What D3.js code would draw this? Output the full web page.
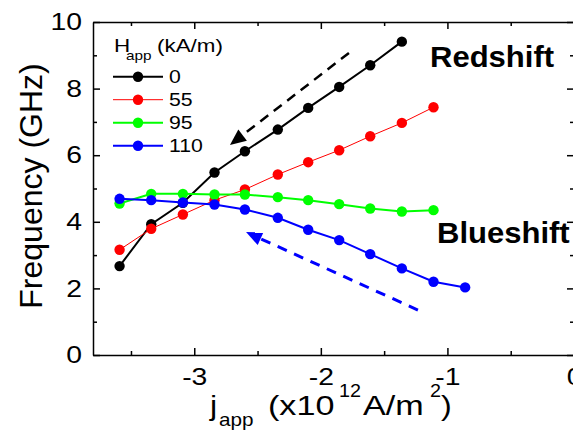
<!DOCTYPE html>
<html>
<head>
<meta charset="utf-8">
<script src="https://cdn.jsdelivr.net/npm/d3@7/dist/d3.min.js"></script>
<style>
  html, body { margin: 0; padding: 0; background: #fff; }
  svg { display: block; }
  text { font-family: "Liberation Sans", Arial, sans-serif; }
</style>
</head>
<body>
<svg id="chart" width="573" height="430"></svg>
<script>
// ---- data ----
const xValues = [-3.59, -3.34, -3.09, -2.84, -2.60, -2.34, -2.10, -1.855, -1.61, -1.36, -1.11, -0.86];
const seriesLabels = ["0", "55", "95", "110"];
const seriesColors = ["#000000", "#ff0000", "#00ff00", "#0000ff"];
const seriesWidths = [2, 1, 2, 2];
const freq0   = [2.67, 3.93, 4.57, 5.48, 6.12, 6.77, 7.42, 8.05, 8.70, 9.41];
const freq55  = [3.16, 3.79, 4.22, 4.65, 4.97, 5.42, 5.79, 6.15, 6.57, 6.97, 7.44];
const freq95  = [4.55, 4.84, 4.84, 4.82, 4.82, 4.74, 4.65, 4.53, 4.40, 4.31, 4.35];
const freq110 = [4.69, 4.65, 4.58, 4.52, 4.37, 4.12, 3.76, 3.45, 3.03, 2.60, 2.20, 2.03];
const yTicks = [0, 2, 4, 6, 8, 10];
const yMinorTicks = [1, 3, 5, 7, 9];
const xTicks = [-3, -2, -1, 0];
const xMinorTicks = [-3.5, -2.5, -1.5, -0.5];
// annotation arrows in data units: [x0, y0, x1(tip), y1(tip)]
const redArrow  = [-1.778, 9.07, -2.718, 6.31];
const blueArrow = [-1.233, 1.35, -2.591, 3.69];

const allSeries = [freq0, freq55, freq95, freq110];

// ---- layout ----
const svg = d3.select("#chart");
const L = 93, R = 574, T = 22, B = 355;
const x = d3.scaleLinear().domain([-3.8, 0]).range([L, R]);
const y = d3.scaleLinear().domain([0, 10]).range([B, T]);
const SX = 1.18; // horizontal stretch of the original lettering

function txt(parent, px, py, s, size, opts = {}) {
  return parent.append("text")
    .attr("transform", `translate(${px},${py}) scale(${opts.sx || SX},1)`)
    .attr("font-size", size)
    .attr("font-weight", opts.bold ? "bold" : "normal")
    .attr("text-anchor", opts.anchor || "start")
    .attr("fill", opts.fill || "#000")
    .text(s);
}

// ---- axes ----
function styleAxis(g) {
  g.selectAll("path.domain").attr("stroke", "#000").attr("stroke-width", 1.5);
  g.selectAll(".tick line").attr("stroke", "#000").attr("stroke-width", 1.5);
}

// left
const gl = svg.append("g").attr("transform", `translate(${L},0)`)
  .call(d3.axisLeft(y).tickValues(yTicks).tickSizeInner(-7).tickSizeOuter(0).tickPadding(11).tickFormat(d => String(d)));
gl.selectAll("text").attr("font-size", 24).attr("x", -11 / SX).attr("transform", `scale(${SX},1)`)
  .attr("font-family", "Liberation Sans, Arial, sans-serif").attr("fill", "#000");
const glm = svg.append("g").attr("transform", `translate(${L},0)`)
  .call(d3.axisLeft(y).tickValues(yMinorTicks).tickSizeInner(-4).tickSizeOuter(0).tickFormat(""));
glm.select("path.domain").remove();
styleAxis(gl); styleAxis(glm);

// right
const gr = svg.append("g").attr("transform", `translate(${R},0)`)
  .call(d3.axisRight(y).tickValues(yTicks).tickSizeInner(-7).tickSizeOuter(0).tickFormat(""));
const grm = svg.append("g").attr("transform", `translate(${R},0)`)
  .call(d3.axisRight(y).tickValues(yMinorTicks).tickSizeInner(-4).tickSizeOuter(0).tickFormat(""));
grm.select("path.domain").remove();
styleAxis(gr); styleAxis(grm);

// bottom
const gb = svg.append("g").attr("transform", `translate(0,${B})`)
  .call(d3.axisBottom(x).tickValues(xTicks).tickSizeInner(-7).tickSizeOuter(0).tickFormat(d => String(d)));
gb.selectAll("text").attr("font-size", 24).attr("y", 30).attr("dy", 0)
  .attr("transform", `scale(${SX},1)`).attr("fill", "#000")
  .attr("font-family", "Liberation Sans, Arial, sans-serif");
gb.selectAll(".tick").each(function(d) {
  d3.select(this).select("text").attr("x", 0);
});
const gbm = svg.append("g").attr("transform", `translate(0,${B})`)
  .call(d3.axisBottom(x).tickValues(xMinorTicks).tickSizeInner(-4).tickSizeOuter(0).tickFormat(""));
gbm.select("path.domain").remove();
styleAxis(gb); styleAxis(gbm);

// top
const gt = svg.append("g").attr("transform", `translate(0,${T})`)
  .call(d3.axisTop(x).tickValues(xTicks).tickSizeInner(-7).tickSizeOuter(0).tickFormat(""));
const gtm = svg.append("g").attr("transform", `translate(0,${T})`)
  .call(d3.axisTop(x).tickValues(xMinorTicks).tickSizeInner(-4).tickSizeOuter(0).tickFormat(""));
gtm.select("path.domain").remove();
styleAxis(gt); styleAxis(gtm);

// ---- series ----
const line = d3.line().x(d => x(d[0])).y(d => y(d[1]));
allSeries.forEach((vals, i) => {
  const pts = vals.map((v, k) => [xValues[k], v]);
  svg.append("path").datum(pts)
    .attr("fill", "none").attr("stroke", seriesColors[i]).attr("stroke-width", seriesWidths[i])
    .attr("d", line);
  svg.append("g").selectAll("circle").data(pts).join("circle")
    .attr("cx", d => x(d[0])).attr("cy", d => y(d[1])).attr("r", 5.2)
    .attr("fill", seriesColors[i]);
});

// ---- annotation arrows ----
function arrow(a, color, dash, width) {
  const x0 = x(a[0]), y0 = y(a[1]), x1 = x(a[2]), y1 = y(a[3]);
  const dx = x1 - x0, dy = y1 - y0, len = Math.hypot(dx, dy);
  const ux = dx / len, uy = dy / len;
  const hl = 16, hw = 7;
  const bx = x1 - ux * hl, by = y1 - uy * hl;
  svg.append("line").attr("x1", x0).attr("y1", y0).attr("x2", bx + ux * 2).attr("y2", by + uy * 2)
    .attr("stroke", color).attr("stroke-width", width).attr("stroke-dasharray", dash);
  svg.append("path")
    .attr("d", `M${x1},${y1}L${bx - uy * hw},${by + ux * hw}L${bx + uy * hw},${by - ux * hw}Z`)
    .attr("fill", color);
}
arrow(redArrow, "#000000", "10,7", 2.5);
arrow(blueArrow, "#0000ff", "10,8", 3);

// ---- legend ----
const lg = svg.append("g");
txt(lg, 114, 52, "H", 19);
txt(lg, 126, 60, "app", 13);
txt(lg, 157, 52, "(kA/m)", 19);
seriesLabels.forEach((lab, i) => {
  const cy = 76.7 + 23 * i;
  lg.append("line").attr("x1", 113).attr("x2", 163).attr("y1", cy).attr("y2", cy)
    .attr("stroke", seriesColors[i]).attr("stroke-width", seriesWidths[i]);
  lg.append("circle").attr("cx", 138).attr("cy", cy).attr("r", 5.2).attr("fill", seriesColors[i]);
  txt(lg, 169, cy + 6.5, lab, 18);
});

// ---- labels ----
txt(svg, 430, 67, "Redshift", 29, { bold: true, sx: 1.07 });
txt(svg, 437, 243, "Blueshift", 29, { bold: true, sx: 1.07 });

svg.append("text")
  .attr("transform", "translate(42,186) rotate(-90)")
  .attr("text-anchor", "middle").attr("font-size", 32).attr("fill", "#000")
  .text("Frequency (GHz)");

// x title pieces
const xt = svg.append("g");
txt(xt, 210, 415, "j", 28, { sx: 1.15 });
txt(xt, 219, 426, "app", 18, { sx: 1.15 });
txt(xt, 268, 415, "(x10", 28, { sx: 1.22 });
txt(xt, 339, 397, "12", 18, { sx: 1.1 });
txt(xt, 363, 415, "A/m", 28, { sx: 1.22 });
txt(xt, 430, 397, "2", 18, { sx: 1.1 });
txt(xt, 441, 415, ")", 28, { sx: 1.15 });
</script>
</body>
</html>
